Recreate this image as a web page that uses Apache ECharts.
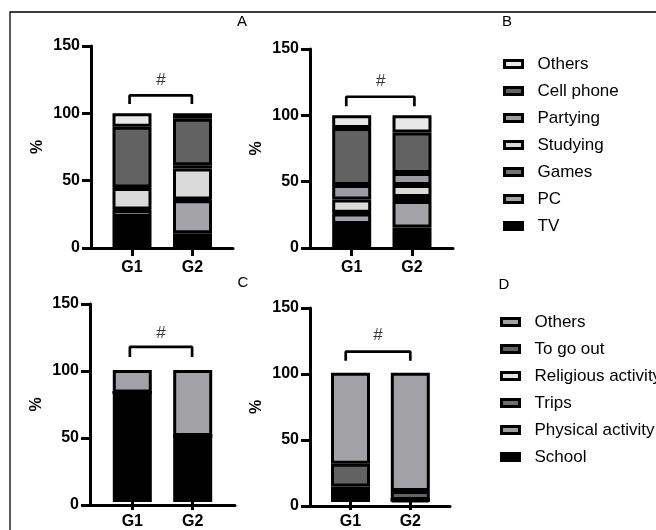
<!DOCTYPE html>
<html><head><meta charset="utf-8">
<script src="https://cdn.jsdelivr.net/npm/echarts@6/dist/echarts.min.js"></script>
<style>html,body{margin:0;padding:0;background:#fff}#c{width:656px;height:530px}</style>
</head><body><div id="c"></div>
<script>
// ---------- DATA ----------
const groups = ['G1', 'G2'];
const yTickValues = [0, 50, 100, 150];
// screen-time categories, stacked bottom -> top
const screenCats = ['TV', 'PC', 'Games', 'Studying', 'Partying', 'Cell phone', 'Others'];
const panelA_G1 = [23, 5, 0.5, 16, 0.5, 45, 10];
const panelA_G2 = [11, 24.5, 0.5, 23, 2.5, 34.5, 4];
const panelB_G1 = [18, 8, 0.5, 10, 11, 43, 9.5];
const panelB_G2 = [15.5, 20, 3, 9, 9, 30.5, 13];
// activity categories, stacked bottom -> top
const activityCats = ['School', 'Physical activity', 'Trips', 'Religious activity', 'To go out', 'Others'];
const panelC_G1 = [83, 0, 0, 0, 0, 17];
const panelC_G2 = [44, 3, 3, 0, 0, 50];
const panelD_G1 = [9, 0, 0, 3, 17.5, 70.5];
const panelD_G2 = [1.5, 0, 0, 0, 7, 91.5];
// significance brackets (x in group units, G1 = 0, G2 = 1; y in %)
const bracketX = [[-0.04, 0.99], [-0.09, 1.04], [-0.04, 0.99], [-0.08, 1.0]];
const bracketY = [[107, 113.3], [106.8, 114], [110.4, 118], [110, 116.9]];
const hashPos = [[0.48, 124.7], [0.48, 125.5], [0.475, 128], [0.46, 129.3]];
const panelLetters = ['A', 'B', 'C', 'D'];

// ---------- STYLE / LAYOUT ----------
const screenColors = ['#000000', '#a4a4a8', '#747474', '#dadada', '#9c9ca0', '#626262', '#e8e8e8'];
const activityColors = ['#000000', '#9e9ea2', '#6e6e6e', '#e4e4e4', '#626262', '#a2a2a6'];
const FONT = 'Liberation Sans, Arial, sans-serif';
const panels = [
  {axisX: 91, right: 233, top: 46, bottom: 248, g1: 132, g2: 192.5},
  {axisX: 310, right: 453, top: 49, bottom: 248, g1: 351.7, g2: 412},
  {axisX: 90, right: 235, top: 304, bottom: 505, g1: 132.3, g2: 192.7},
  {axisX: 310, right: 450, top: 308, bottom: 506, g1: 350.5, g2: 410.3}
];
const panelData = [
  {cats: screenCats, colors: screenColors, g1: panelA_G1, g2: panelA_G2},
  {cats: screenCats, colors: screenColors, g1: panelB_G1, g2: panelB_G2},
  {cats: activityCats, colors: activityColors, g1: panelC_G1, g2: panelC_G2},
  {cats: activityCats, colors: activityColors, g1: panelD_G1, g2: panelD_G2}
];

const grid = [], xAxis = [], yAxis = [], series = [];
panels.forEach((p, i) => {
  const sp = p.g2 - p.g1;
  grid.push({left: p.axisX, top: p.top, width: p.right - p.axisX, height: p.bottom - p.top});
  xAxis.push({
    gridIndex: i, type: 'value',
    min: -(p.g1 - p.axisX) / sp, max: 1 + (p.right - p.g2) / sp,
    axisLine: {show: true, onZero: false, lineStyle: {color: '#000', width: 3}},
    axisTick: {show: false}, axisLabel: {show: false}, splitLine: {show: false}
  });
  yAxis.push({
    gridIndex: i, type: 'value', min: yTickValues[0], max: yTickValues[yTickValues.length - 1], interval: 50,
    axisLine: {show: true, onZero: false, lineStyle: {color: '#000', width: 3}},
    axisTick: {show: true, length: 9, lineStyle: {color: '#000', width: 3}},
    axisLabel: {color: '#000', fontWeight: 'bold', fontSize: 16, fontFamily: FONT, margin: 11},
    splitLine: {show: false},
    name: '%', nameLocation: 'middle', nameRotate: 90, nameGap: 45,
    nameTextStyle: {color: '#000', fontWeight: 'bold', fontSize: 16, fontFamily: FONT}
  });
});
panels.forEach((p, i) => {
  const sp = p.g2 - p.g1;
  grid.push({left: p.g1 - sp / 2, top: p.top, width: 2 * sp, height: p.bottom - p.top});
  xAxis.push({
    gridIndex: 4 + i, type: 'category', data: groups, boundaryGap: true,
    axisLine: {show: false},
    axisTick: {show: true, alignWithLabel: true, length: 8, lineStyle: {color: '#000', width: 3}},
    axisLabel: {color: '#000', fontWeight: 'bold', fontSize: 16, fontFamily: FONT, margin: 12}
  });
  yAxis.push({gridIndex: 4 + i, type: 'value', min: 0, max: 150, show: false});
});

panelData.forEach((pd, i) => {
  pd.cats.forEach((c, k) => {
    series.push({
      type: 'bar', name: c, xAxisIndex: 4 + i, yAxisIndex: 4 + i, stack: 'panel' + i,
      barWidth: 39, data: [pd.g1[k], pd.g2[k]], silent: true,
      itemStyle: {color: pd.colors[k], borderColor: '#000', borderWidth: 3}
    });
  });
  const bx = bracketX[i], by = bracketY[i];
  series.push({
    type: 'line', xAxisIndex: i, yAxisIndex: i, symbol: 'none', silent: true,
    data: [[bx[0], by[0]], [bx[0], by[1]], [bx[1], by[1]], [bx[1], by[0]]],
    lineStyle: {color: '#000', width: 2.7}
  });
  series.push({
    type: 'scatter', xAxisIndex: i, yAxisIndex: i, symbolSize: 1, silent: true,
    itemStyle: {color: 'rgba(0,0,0,0)'},
    data: [hashPos[i]],
    label: {show: true, position: 'inside', formatter: '#', color: '#000', fontSize: 17, fontFamily: FONT}
  });
});

const legendCommon = {
  orient: 'vertical', icon: 'rect', itemWidth: 18, itemHeight: 7, itemGap: 9, padding: 0, selectedMode: false,
  itemStyle: {borderColor: '#000', borderWidth: 3},
  textStyle: {color: '#000', fontSize: 17, fontFamily: FONT, lineHeight: 18, padding: [0, 0, 0, 10]}
};
const legend = [
  Object.assign({}, legendCommon, {
    left: 503, top: 55,
    data: screenCats.map((c, k) => ({name: c, itemStyle: {color: screenColors[k]}})).reverse()
  }),
  Object.assign({}, legendCommon, {
    left: 500, top: 313,
    data: activityCats.map((c, k) => ({name: c, itemStyle: {color: activityColors[k]}})).reverse()
  })
];

const letterPos = [[242, 22], [507, 22], [243, 283], [504, 285]];
const graphic = [
  {type: 'rect', shape: {x: 10, y: 12, width: 700, height: 600}, style: {fill: 'none', stroke: '#000', lineWidth: 1.3}, silent: true}
].concat(panelLetters.map((t, i) => ({
  type: 'text', x: letterPos[i][0], y: letterPos[i][1], silent: true,
  style: {text: t, fill: '#000', font: '15px ' + FONT, textAlign: 'center', textVerticalAlign: 'middle'}
})));

const chart = echarts.init(document.getElementById('c'), null, {renderer: 'canvas'});
chart.setOption({
  animation: false, backgroundColor: '#fff',
  grid, xAxis, yAxis, series, legend, graphic
});
</script></body></html>
